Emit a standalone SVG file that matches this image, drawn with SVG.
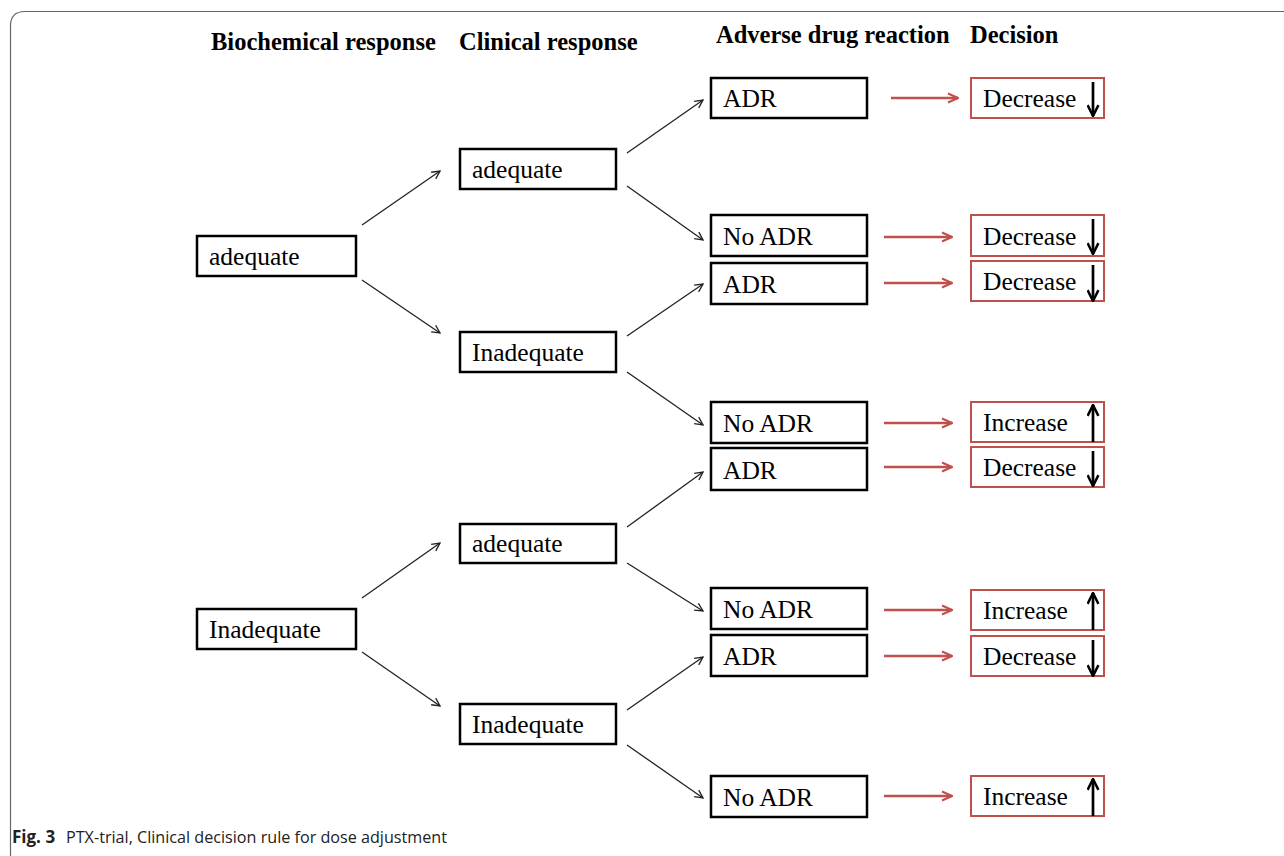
<svg xmlns="http://www.w3.org/2000/svg" width="1284" height="856" viewBox="0 0 1284 856">
<style>
.hdr{font-family:"Liberation Serif","Times New Roman",serif;font-weight:bold;font-size:24.5px;fill:#000}
.lbl{font-family:"Liberation Serif","Times New Roman",serif;font-size:25.5px;fill:#000}
.bx{fill:#fff;stroke:#000;stroke-width:2.5}
.dx{fill:#fff;stroke:#c0504d;stroke-width:2}
.blk{stroke:#222;stroke-width:1.3;fill:none}
.red{stroke:#c0504d;stroke-width:2.5;fill:none}
.ud{stroke:#000;stroke-width:2.7;fill:none}
.cap{font-family:"Open Sans","Noto Sans",sans-serif;font-size:17px;fill:#222}
</style>
<defs>
<marker id="ab" viewBox="0 0 10 10" refX="9" refY="5" markerWidth="10" markerHeight="10" markerUnits="userSpaceOnUse" orient="auto">
<path d="M1,1 L9,5 L1,9" fill="none" stroke="#222" stroke-width="1.3"/>
</marker>
<marker id="ar" viewBox="0 0 12 12" refX="11" refY="6" markerWidth="12" markerHeight="12" markerUnits="userSpaceOnUse" orient="auto">
<path d="M1,1.5 L11,6 L1,10.5" fill="none" stroke="#c0504d" stroke-width="2.2"/>
</marker>
<marker id="au" viewBox="0 0 12 12" refX="11" refY="6" markerWidth="13" markerHeight="13" markerUnits="userSpaceOnUse" orient="auto">
<path d="M1,1 L11,6 L1,11" fill="none" stroke="#000" stroke-width="2.3"/>
</marker>
</defs>
<rect width="1284" height="856" fill="#fff"/>
<path d="M10.5,856 L10.5,26 Q10.5,11.5 25,11.5 L1284,11.5" fill="none" stroke="#666" stroke-width="1.2"/>
<g id="headers">
<text class="hdr" x="211" y="50">Biochemical response</text>
<text class="hdr" x="459" y="50">Clinical response</text>
<text class="hdr" x="716" y="43">Adverse drug reaction</text>
<text class="hdr" x="970" y="43">Decision</text>
</g>
<g id="connectors">
<line class="blk" x1="362" y1="225" x2="440" y2="171" marker-end="url(#ab)"/>
<line class="blk" x1="362" y1="280" x2="440" y2="333" marker-end="url(#ab)"/>
<line class="blk" x1="362" y1="598" x2="440" y2="543" marker-end="url(#ab)"/>
<line class="blk" x1="362" y1="652" x2="440" y2="706" marker-end="url(#ab)"/>
<line class="blk" x1="627" y1="153" x2="703" y2="100" marker-end="url(#ab)"/>
<line class="blk" x1="627" y1="186" x2="703" y2="240" marker-end="url(#ab)"/>
<line class="blk" x1="627" y1="336" x2="703" y2="284" marker-end="url(#ab)"/>
<line class="blk" x1="627" y1="372" x2="703" y2="425" marker-end="url(#ab)"/>
<line class="blk" x1="627" y1="527" x2="703" y2="472" marker-end="url(#ab)"/>
<line class="blk" x1="627" y1="563" x2="703" y2="611" marker-end="url(#ab)"/>
<line class="blk" x1="627" y1="710" x2="703" y2="657" marker-end="url(#ab)"/>
<line class="blk" x1="627" y1="745" x2="703" y2="798" marker-end="url(#ab)"/>
<line class="red" x1="891" y1="98" x2="958" y2="98" marker-end="url(#ar)"/>
<line class="red" x1="884" y1="237" x2="952" y2="237" marker-end="url(#ar)"/>
<line class="red" x1="884" y1="283" x2="952" y2="283" marker-end="url(#ar)"/>
<line class="red" x1="884" y1="423" x2="952" y2="423" marker-end="url(#ar)"/>
<line class="red" x1="884" y1="467" x2="952" y2="467" marker-end="url(#ar)"/>
<line class="red" x1="884" y1="610" x2="952" y2="610" marker-end="url(#ar)"/>
<line class="red" x1="884" y1="656" x2="952" y2="656" marker-end="url(#ar)"/>
<line class="red" x1="884" y1="796" x2="952" y2="796" marker-end="url(#ar)"/>
</g>
<g id="bio-adequate"><rect class="bx" x="197" y="236" width="159" height="40"/><text class="lbl" x="209" y="265">adequate</text></g>
<g id="bio-inadequate"><rect class="bx" x="197" y="609" width="159" height="40"/><text class="lbl" x="209" y="638">Inadequate</text></g>
<g id="cl-adequate-1"><rect class="bx" x="460" y="149" width="156" height="40"/><text class="lbl" x="472" y="178">adequate</text></g>
<g id="cl-inadequate-1"><rect class="bx" x="460" y="332" width="156" height="40"/><text class="lbl" x="472" y="361">Inadequate</text></g>
<g id="cl-adequate-2"><rect class="bx" x="460" y="524" width="156" height="39"/><text class="lbl" x="472" y="552">adequate</text></g>
<g id="cl-inadequate-2"><rect class="bx" x="460" y="704" width="156" height="40"/><text class="lbl" x="472" y="733">Inadequate</text></g>
<g id="adr-1"><rect class="bx" x="711" y="78" width="156" height="40"/><text class="lbl" x="723" y="107">ADR</text></g>
<g id="noadr-1"><rect class="bx" x="711" y="215" width="156" height="41"/><text class="lbl" x="723" y="245">No ADR</text></g>
<g id="adr-2"><rect class="bx" x="711" y="263" width="156" height="41"/><text class="lbl" x="723" y="293">ADR</text></g>
<g id="noadr-2"><rect class="bx" x="711" y="402" width="156" height="41"/><text class="lbl" x="723" y="432">No ADR</text></g>
<g id="adr-3"><rect class="bx" x="711" y="448" width="156" height="42"/><text class="lbl" x="723" y="479">ADR</text></g>
<g id="noadr-3"><rect class="bx" x="711" y="588" width="156" height="41"/><text class="lbl" x="723" y="618">No ADR</text></g>
<g id="adr-4"><rect class="bx" x="711" y="635" width="156" height="41"/><text class="lbl" x="723" y="665">ADR</text></g>
<g id="noadr-4"><rect class="bx" x="711" y="776" width="156" height="41"/><text class="lbl" x="723" y="806">No ADR</text></g>
<g id="dec-1"><rect class="dx" x="971" y="78" width="133" height="40"/><text class="lbl" x="983" y="107">Decrease</text><line class="ud" x1="1093" y1="82" x2="1093" y2="116" marker-end="url(#au)"/></g>
<g id="dec-2"><rect class="dx" x="971" y="215" width="133" height="41"/><text class="lbl" x="983" y="245">Decrease</text><line class="ud" x1="1093" y1="219" x2="1093" y2="254" marker-end="url(#au)"/></g>
<g id="dec-3"><rect class="dx" x="971" y="261" width="133" height="40"/><text class="lbl" x="983" y="290">Decrease</text><line class="ud" x1="1093" y1="265" x2="1093" y2="301" marker-end="url(#au)"/></g>
<g id="inc-1"><rect class="dx" x="971" y="402" width="133" height="40"/><text class="lbl" x="983" y="431">Increase</text><line class="ud" x1="1093" y1="442" x2="1093" y2="405" marker-end="url(#au)"/></g>
<g id="dec-4"><rect class="dx" x="971" y="447" width="133" height="40"/><text class="lbl" x="983" y="476">Decrease</text><line class="ud" x1="1093" y1="451" x2="1093" y2="486" marker-end="url(#au)"/></g>
<g id="inc-2"><rect class="dx" x="971" y="590" width="133" height="40"/><text class="lbl" x="983" y="619">Increase</text><line class="ud" x1="1093" y1="630" x2="1093" y2="593" marker-end="url(#au)"/></g>
<g id="dec-5"><rect class="dx" x="971" y="636" width="133" height="40"/><text class="lbl" x="983" y="665">Decrease</text><line class="ud" x1="1093" y1="640" x2="1093" y2="676" marker-end="url(#au)"/></g>
<g id="inc-3"><rect class="dx" x="971" y="776" width="133" height="40"/><text class="lbl" x="983" y="805">Increase</text><line class="ud" x1="1093" y1="816" x2="1093" y2="779" marker-end="url(#au)"/></g>
<text class="cap" x="12" y="843"><tspan font-weight="bold">Fig. 3</tspan><tspan x="66" textLength="381" lengthAdjust="spacingAndGlyphs">PTX-trial, Clinical decision rule for dose adjustment</tspan></text>
</svg>
